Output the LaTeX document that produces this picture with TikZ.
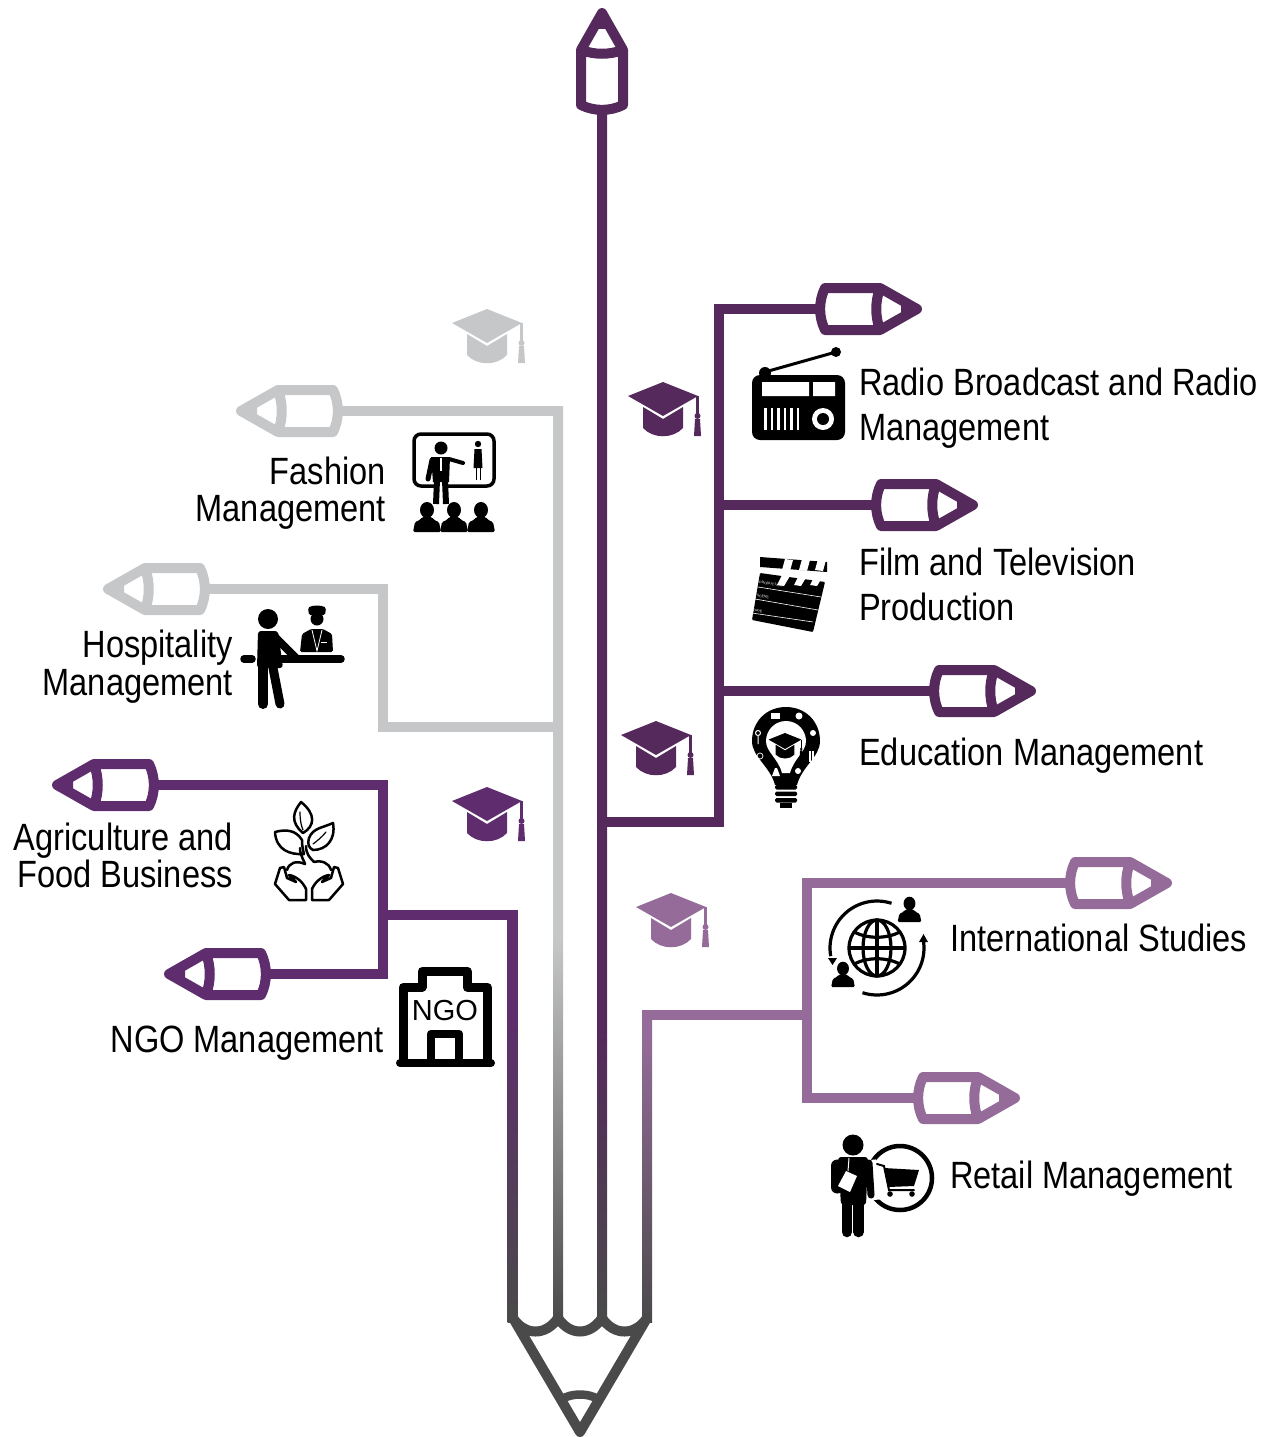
\documentclass[tikz,border=0pt]{standalone}
\usepackage{fontspec}
\setmainfont{Liberation Sans}
\newfontfamily\lab[FakeStretch=0.857]{Liberation Sans}
\usetikzlibrary{calc}
\definecolor{darkp}{HTML}{55295C}
\definecolor{midp}{HTML}{5F2C6E}
\definecolor{lightp}{HTML}{946B99}
\definecolor{lgray}{HTML}{C6C7C9}
\definecolor{dgray}{HTML}{4A4A4A}
\pgfdeclareverticalshading{stemgray}{100bp}{color(0bp)=(dgray); color(25bp)=(dgray); color(46bp)=(lgray); color(100bp)=(lgray)}
\pgfdeclareverticalshading{stempur}{100bp}{color(0bp)=(dgray); color(25bp)=(dgray); color(64.6bp)=(midp); color(100bp)=(midp)}
\pgfdeclareverticalshading{stemlight}{100bp}{color(0bp)=(dgray); color(25bp)=(dgray); color(70.9bp)=(lightp); color(100bp)=(lightp)}
\pgfdeclareverticalshading{stemmain}{100bp}{color(0bp)=(dgray); color(25bp)=(dgray); color(37.1bp)=(darkp); color(100bp)=(darkp)}
\newcommand{\stemshade}[3]{\shade[shading=#3] ($(#1)+(-5,0)$) rectangle ($(#2)+(5,0)$);}
\tikzset{
 x=1pt,y=-1pt,
 wire/.style={line width=10pt,line cap=butt,line join=miter},
 lbl/.style={font=\lab\fontsize{38}{42}\selectfont,inner sep=0pt},
 pics/pencilpic/.style={code={
   \draw[#1,line width=10pt,line join=round] (10,-21) -- (65,-21) -- (102,0) -- (65,21) -- (10,21) .. controls (3.5,8) and (3.5,-8) .. (10,-21) -- cycle;
   \draw[#1,line width=10pt] (65,-21) .. controls (60,-7) and (60,7) .. (65,21);
   \fill[#1] (102,0) -- (86,-9) -- (86,9) -- cycle;
   \coordinate (-tail) at (4,0);
 }},
 pics/capic/.style={code={
   \fill[#1] (-35,14) -- (0,0) -- (35,14) -- (0,34) -- cycle;
   \fill[#1] (-20,25) -- (0,37) -- (20,25) -- (20,46) .. controls (10,57) and (-10,57) .. (-20,46) -- cycle;
   \fill[#1] (33.2,14) rectangle (35.8,35);
   \fill[#1] (34.5,34) circle [radius=3];
   \fill[#1] (32,37) -- (37,37) -- (38,54) -- (31,54) -- cycle;
 }},
 pics/bust/.style={code={
   \fill[black] (0,-10) ellipse [x radius=7, y radius=8];
   \fill[black,rounded corners=1.5pt] (-5,-3) -- (5,-3) -- (7,0) -- (12,2) -- (14,12) -- (-14,12) -- (-12,2) -- (-7,0) -- cycle;
 }},
}
\begin{document}
\begin{tikzpicture}
\useasboundingbox (0,0) rectangle (1270,1437);
% pencils
\pic[rotate=90] (top) at (602,115) {pencilpic=darkp};
\pic (radio) at (815,309) {pencilpic=darkp};
\pic (film) at (871,505) {pencilpic=darkp};
\pic (edu) at (929,691) {pencilpic=darkp};
\pic (intl) at (1065,883) {pencilpic=lightp};
\pic (retail) at (913,1098) {pencilpic=lightp};
\pic[rotate=180] (fash) at (343,411) {pencilpic=lgray};
\pic[rotate=180] (hosp) at (210,589) {pencilpic=lgray};
\pic[rotate=180] (agri) at (159,785) {pencilpic=midp};
\pic[rotate=180] (ngo) at (271,974) {pencilpic=midp};
% junction coordinates
\coordinate (mainhub) at (602,822);
\coordinate (darkv) at (719,822);
\coordinate (grayv) at (558,406);
\coordinate (grayc) at (563,411);
\coordinate (grayj) at (558,727);
\coordinate (grayb) at (558,1322);
\coordinate (hospv) at (383,727);
\coordinate (purv) at (383,915);
\coordinate (purj) at (512.5,910);
\coordinate (purc) at (517.5,915);
\coordinate (purb) at (512.5,1322);
\coordinate (mainb) at (602,1322);
\coordinate (lth) at (647,1010);
\coordinate (ltc) at (642,1015);
\coordinate (ltb) at (647,1322);
\coordinate (ltj) at (807,1015);
\coordinate (filmj) at (719,505);
\coordinate (eduj) at (719,691);
% stems with gradient
\stemshade{grayv}{grayb}{stemgray}
\stemshade{purj}{purb}{stempur}
\stemshade{lth}{ltb}{stemlight}
\stemshade{top-tail}{mainb}{stemmain}
% connectors
\draw[wire,lgray] (fash-tail) -- (grayc);
\draw[wire,lgray] (hosp-tail) -| (hospv) -- (grayj);
\draw[wire,midp] (agri-tail) -| (purv) |- (ngo-tail);
\draw[wire,midp] (purv) -- (purc);
\draw[wire,darkp] (mainhub) -- (darkv) |- (radio-tail);
\draw[wire,darkp] (filmj) -- (film-tail);
\draw[wire,darkp] (eduj) -- (edu-tail);
\draw[wire,lightp] (ltc) -- (ltj);
\draw[wire,lightp] (intl-tail) -| (ltj) |- (retail-tail);
% pencil point
\draw[dgray,line width=10pt,line join=round] (513,1318) .. controls (525,1336) and (546,1336) .. (558,1318) .. controls (570,1336) and (590,1336) .. (602,1318) .. controls (614,1336) and (635,1336) .. (647,1318) -- (580,1432) -- cycle;
\draw[dgray,line width=8.5pt] (562,1399) .. controls (572,1393) and (588,1393) .. (598,1399);
% caps
\pic at (487,309) {capic=lgray};
\pic at (663,382) {capic=darkp};
\pic at (656,721) {capic=darkp};
\pic at (487,787) {capic=midp};
\pic at (671,893) {capic=lightp};
% labels
\node[lbl,anchor=base west] (tradio1) at (859,395) {Radio Broadcast and Radio};
\node[lbl,anchor=base west] (tradio2) at (859,440) {Management};
\node[lbl,anchor=base west] (tfilm1) at (859,575) {Film and Television};
\node[lbl,anchor=base west] (tfilm2) at (859,620) {Production};
\node[lbl,anchor=base west] (tedu) at (859,765) {Education Management};
\node[lbl,anchor=base west] (tintl) at (950,951) {International Studies};
\node[lbl,anchor=base west] (tretail) at (950,1188) {Retail Management};
\node[lbl,anchor=base east] (tfash1) at (386,484) {Fashion};
\node[lbl,anchor=base east] (tfash2) at (386,521) {Management};
\node[lbl,anchor=base east] (thosp1) at (233,657) {Hospitality};
\node[lbl,anchor=base east] (thosp2) at (233,695) {Management};
\node[lbl,anchor=base east] (tagri1) at (233,850) {Agriculture and};
\node[lbl,anchor=base east] (tagri2) at (233,887) {Food Business};
\node[lbl,anchor=base east] (tngo) at (384,1052) {NGO Management};
% radio icon
\fill[black] (765,373) circle [radius=6];
\draw[black,line width=3pt] (765,372) -- (836,352);
\fill[black] (836,352) circle [radius=5];
\fill[black,rounded corners=8pt] (752,375) rectangle (845,440);
\fill[white] (762,382) rectangle (809,396) (813,382) rectangle (835,396);
\foreach \bx in {764,770.5,777,783.5,790,796.5} \fill[white] (\bx,408) rectangle ++(2.6,22);
\fill[white] (823,419) circle [radius=11];
\fill[black] (823,419) circle [radius=6];
% fashion icon
\draw[black,line width=3.5pt,rounded corners=7pt] (414,434) rectangle (494,486);
\draw[white,line width=12pt] (441,484) -- (441,497);
\fill[black] (441,448) circle [radius=6.5];
\fill[black] (431,457) -- (450,457) -- (449,482) -- (433,482) -- cycle;
\draw[black,line width=5pt,line cap=round] (432,460) -- (428,479);
\draw[black,line width=4pt,line cap=round] (449,459) -- (463,463);
\draw[black,line width=6pt] (437,480) -- (436,504);
\draw[black,line width=6pt] (445,480) -- (446,504);
\draw[white,line width=1.8pt] (441,458) -- (441,471);
\fill[black] (478,444) circle [radius=3.2];
\fill[black] (474.5,449) -- (481.5,449) -- (482.5,468) -- (473.5,468) -- cycle;
\draw[black,line width=1pt] (476,468) -- (476,480) (480,468) -- (480,480);
\pic at (427,520) {bust};
\pic at (454,520) {bust};
\pic at (481,520) {bust};
% hospitality icon
\fill[black] (268,619) circle [radius=10];
\fill[black,rounded corners=3pt] (258,631) -- (278,631) -- (283,668) -- (257,668) -- cycle;
\draw[black,line width=8pt,line cap=round] (273,635) -- (296,658);
\draw[black,line width=10pt,line cap=round] (263,665) -- (263,704);
\draw[black,line width=9pt,line cap=round] (273,668) -- (280,704);
\draw[black,line width=7.5pt,line cap=round] (244,659) -- (252,659);
\draw[black,line width=7.5pt,line cap=round] (281,659) -- (341,659);
\fill[black] (317,619) circle [radius=6.5];
\fill[black,rounded corners=1.5pt] (308,608) .. controls (312,605) and (322,605) .. (326,608) -- (325,615) -- (309,615) -- cycle;
\fill[black,rounded corners=1.5pt] (300,652) -- (302,634) -- (311,629) -- (323,629) -- (332,634) -- (333,652) -- cycle;
\draw[white,line width=0.8pt] (312,630) -- (317,651) -- (322,630);
\draw[white,line width=1pt] (321,642) -- (327,642);
% clapperboard icon
\fill[black,rounded corners=1pt] (760,573) -- (825,582) -- (813,632) -- (752,620) -- cycle;
\fill[black] (760,557) -- (827,562) -- (827,572) -- (760,567) -- cycle;
\foreach \cx in {785,802,818} {
  \fill[white] (\cx,559) -- (\cx+8,560) -- (\cx+5,571) -- (\cx-3,570) -- cycle;
  \fill[white] (\cx-3,575) -- (\cx+5,576) -- (\cx-1,586) -- (\cx-8,585) -- cycle;}
\draw[white,line width=0.6pt] (758,587) -- (821,597) (755,599) -- (818,610) (752,613) -- (813,622);
\node[white,font=\fontsize{3.5}{4}\selectfont,rotate=-9,inner sep=0pt] (cpr) at (771,584) {PRODUCTION};
\node[white,font=\fontsize{3.5}{4}\selectfont,rotate=-9,inner sep=0pt] (csc) at (763,596.5) {SCENE};
\node[white,font=\fontsize{3.5}{4}\selectfont,rotate=-9,inner sep=0pt] (cda) at (758,611) {DATE};
% bulb icon
\fill[black] (786,707) .. controls (766,707) and (752,722) .. (752,741) .. controls (752,757) and (770,766) .. (775,785) -- (797,785) .. controls (802,766) and (820,757) .. (820,741) .. controls (820,722) and (806,707) .. (786,707) -- cycle;
\foreach \sy in {785,791.5,798} \fill[black,rounded corners=1.5pt] (775,\sy) rectangle (797,\sy+4.5);
\fill[black] (780,803) rectangle (792,807.5);
\fill[white] (786,721) .. controls (774,721) and (766,731) .. (766,741) .. controls (766,752) and (778,758) .. (782,773) -- (790,773) .. controls (794,758) and (806,752) .. (806,741) .. controls (806,731) and (798,721) .. (786,721) -- cycle;
\pic[scale=0.47] at (785,733) {capic=black};
\fill[white] (771,713) rectangle (780,719);
\fill[white] (799,716) circle [radius=3.5];
\fill[white] (813,733) circle [radius=3];
\draw[white,line width=1pt] (758,733) circle [radius=2.5] (758,736) -- (758,744);
\draw[white,line width=0.7pt] (760,756) circle [radius=3];
\draw[white,line width=1.2pt] (810,751) -- (810,762) (813,751) -- (813,762);
\fill[white] (775,768) -- (777,768) -- (780,776) -- (772,776) -- cycle;
\fill[white] (798,771) circle [radius=3];
% agriculture icon
\begin{scope}[black,line width=2.5pt,line join=round,line cap=round]
\draw (301,802) .. controls (293,812) and (290,822) .. (303,833) .. controls (315,826) and (316,814) .. (301,802) -- cycle;
\draw[line width=1.2pt] (300,812) .. controls (300,820) and (301,825) .. (303,830);
\draw (275,832) .. controls (286,829) and (296,830) .. (302,840) .. controls (302,846) and (303,850) .. (304,854) .. controls (290,855) and (276,850) .. (275,832) -- cycle;
\draw (333,823) .. controls (322,828) and (313,828) .. (309,838) .. controls (307,844) and (309,848) .. (313,850) .. controls (326,850) and (336,840) .. (333,823) -- cycle;
\draw[line width=1.2pt] (326,832) .. controls (322,837) and (317,841) .. (313,844);
\draw (300,848) .. controls (300,856) and (305,862) .. (305,864);
\draw (306,846) .. controls (306,854) and (310,858) .. (314,862);
\draw (287,870) .. controls (289,863) and (296,860) .. (305,864);
\draw (314,862) .. controls (322,860) and (329,863) .. (331,870);
\draw (280,868) -- (284,867) -- (287,878) -- (296,882) -- (289,875) .. controls (296,876) and (303,882) .. (306,889) -- (306,900) -- (289,900) -- (275,884) -- cycle;
\draw (338,868) -- (334,867) -- (331,878) -- (322,882) -- (329,875) .. controls (322,876) and (315,882) .. (312,889) -- (312,900) -- (329,900) -- (343,884) -- cycle;
\end{scope}
% NGO icon
\draw[black,line width=9pt,line join=round] (403,1062) -- (403,987) -- (422,987) -- (422,971) -- (467,971) -- (467,987) -- (487,987) -- (487,1062);
\draw[black,line width=8.5pt,line join=round] (431,1062) -- (431,1034) -- (459,1034) -- (459,1062);
\draw[black,line width=8pt,line cap=round] (400,1063) -- (491,1063);
\node[font=\fontsize{29}{30}\selectfont,inner sep=0pt] (tngoic) at (445,1011) {NGO};
% globe icon
\begin{scope}[black,line width=3.2pt]
\draw (877,948) circle [radius=28];
\draw (877,948) ellipse [x radius=14, y radius=28];
\draw (877,920) -- (877,976) (849,948) -- (905,948);
\draw (854,932) .. controls (868,939) and (886,939) .. (900,932);
\draw (854,964) .. controls (868,957) and (886,957) .. (900,964);
\draw plot[domain=72:190,samples=30,smooth] ({877+47*cos(\x)},{948-47*sin(\x)});
\draw plot[domain=-108:10,samples=30,smooth] ({877+47*cos(\x)},{948-47*sin(\x)});
\end{scope}
\fill[black] (828,958) -- (837,958) -- (832.5,965) -- cycle;
\fill[black] (919,942) -- (928,942) -- (923.5,934) -- cycle;
\pic[scale=0.85] at (909.5,912) {bust};
\pic[scale=0.85] at (843,977) {bust};
% retail icon
\draw[black,line width=4.5pt] (900,1178) circle [radius=32];
\draw[white,line width=12pt] (870,1160) -- (874,1200);
\fill[black] (853,1145) circle [radius=10.5];
\fill[black,rounded corners=3pt] (838,1157) -- (868,1157) -- (866,1205) -- (841,1205) -- cycle;
\draw[black,line width=13pt,line cap=round] (837,1166) -- (837,1187);
\draw[black,line width=7pt,line cap=round] (869,1163) -- (871,1195);
\draw[black,line width=10.5pt,line cap=round] (847,1200) -- (847,1232);
\draw[black,line width=10.5pt,line cap=round] (858.5,1200) -- (858.5,1232);
\draw[white,line width=1pt] (849,1158) -- (848,1171);
\fill[white] (846,1171) -- (857,1176) -- (850,1192) -- (838,1186) -- cycle;
\draw[black,line width=2pt,line cap=round] (877,1164) -- (884,1166) -- (889,1190) -- (914,1190);
\fill[black] (884,1168) -- (919,1170) -- (914,1186) -- (888,1187) -- cycle;
\fill[black] (890,1194) circle [radius=2.8] (912,1194) circle [radius=2.8];
\end{tikzpicture}
\end{document}
